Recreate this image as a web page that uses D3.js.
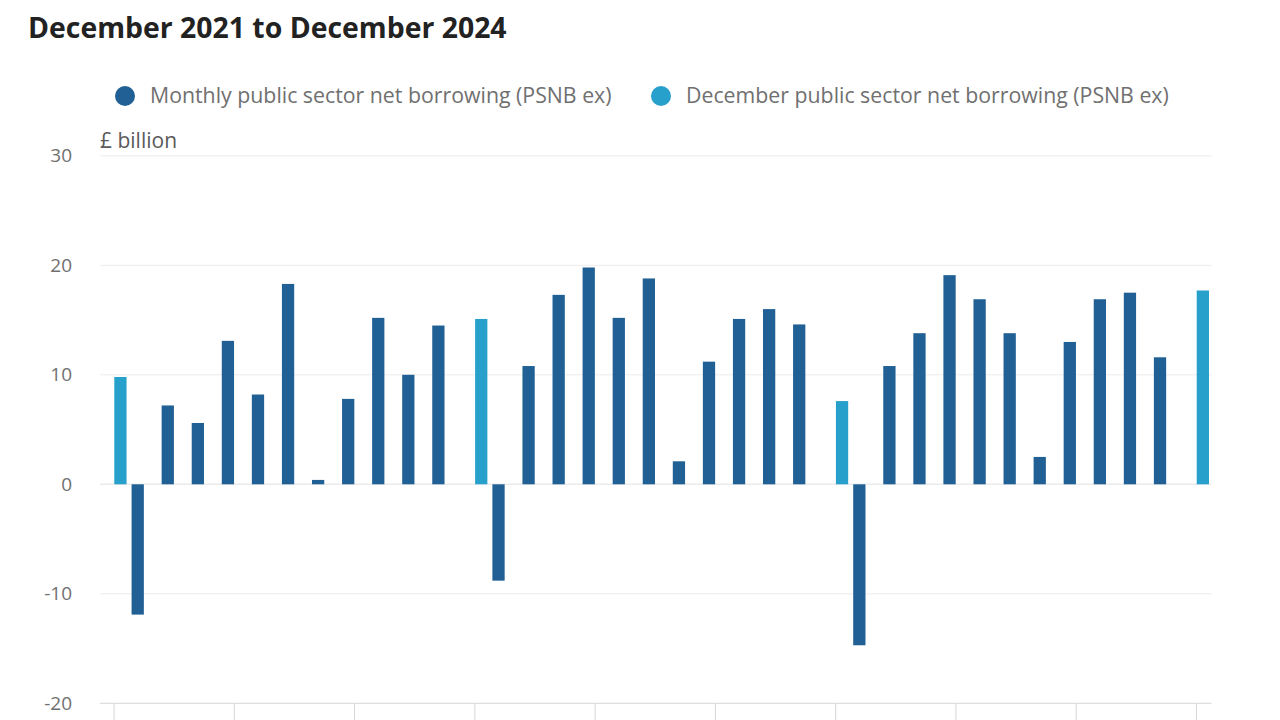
<!DOCTYPE html>
<html>
<head>
<meta charset="utf-8">
<script src="https://cdn.jsdelivr.net/npm/d3@7"></script>
<style>
  html, body { margin: 0; padding: 0; background: #fff; }
  svg { display: block; font-family: "Open Sans", sans-serif; }
</style>
</head>
<body>
<svg id="chart" width="1280" height="720"></svg>
<script>
// ---- Data ----
const months = [
  "Dec 2021","Jan 2022","Feb 2022","Mar 2022","Apr 2022","May 2022","Jun 2022","Jul 2022","Aug 2022","Sep 2022","Oct 2022","Nov 2022",
  "Dec 2022","Jan 2023","Feb 2023","Mar 2023","Apr 2023","May 2023","Jun 2023","Jul 2023","Aug 2023","Sep 2023","Oct 2023","Nov 2023",
  "Dec 2023","Jan 2024","Feb 2024","Mar 2024","Apr 2024","May 2024","Jun 2024","Jul 2024","Aug 2024","Sep 2024","Oct 2024","Nov 2024",
  "Dec 2024"
];
// Monthly PSNB ex (null in December months)
const monthlyValues = [
  null, -11.9, 7.2, 5.6, 13.1, 8.2, 18.3, 0.4, 7.8, 15.2, 10.0, 14.5,
  null, -8.8, 10.8, 17.3, 19.8, 15.2, 18.8, 2.1, 11.2, 15.1, 16.0, 14.6,
  null, -14.7, 10.8, 13.8, 19.1, 16.9, 13.8, 2.5, 13.0, 16.9, 17.5, 11.6,
  null
];
// December PSNB ex (only December months)
const decemberValues = [
  9.8, null, null, null, null, null, null, null, null, null, null, null,
  15.1, null, null, null, null, null, null, null, null, null, null, null,
  7.6, null, null, null, null, null, null, null, null, null, null, null,
  17.7
];
const seriesNames = ["Monthly public sector net borrowing (PSNB ex)", "December public sector net borrowing (PSNB ex)"];
const seriesKeys = ["monthly", "december"];
const seriesColors = ["#206095", "#27a0cc"];
const yTicks = [-20, -10, 0, 10, 20, 30];
const xTickMonths = ["Dec 2021","Apr 2022","Aug 2022","Dec 2022","Apr 2023","Aug 2023","Dec 2023","Apr 2024","Aug 2024","Dec 2024"];
const titleText = "December 2021 to December 2024";
const yUnit = "£ billion";

// ---- Layout ----
const svg = d3.select("#chart");
const plot = { left: 99, right: 1211.5, top: 155.8, bottom: 703.3 };

const x0 = d3.scaleBand().domain(months).range([plot.left, plot.right]).paddingInner(0).paddingOuter(0);
const x1 = d3.scaleBand().domain(seriesKeys).range([2, x0.bandwidth() - 2]).paddingInner(0.04).paddingOuter(0.04);
const y = d3.scaleLinear().domain([-20, 30]).range([plot.bottom, plot.top]);

// Title
svg.append("text")
  .attr("x", 28).attr("y", 38)
  .attr("font-size", 28.4).attr("font-weight", 700)
  .attr("fill", "#222")
  .text(titleText);

// Legend
const legendX = [125, 661];
seriesNames.forEach((name, i) => {
  svg.append("circle").attr("cx", legendX[i]).attr("cy", 96).attr("r", 10).attr("fill", seriesColors[i]);
  svg.append("text")
    .attr("x", legendX[i] + 25).attr("y", 96).attr("dy", "0.35em")
    .attr("font-size", 21.3).attr("fill", "#707070")
    .text(name);
});

// Unit label
svg.append("text")
  .attr("x", 100).attr("y", 148)
  .attr("font-size", 21).attr("fill", "#5a5a5a")
  .text(yUnit);

// Gridlines
svg.append("g")
  .selectAll("line")
  .data(yTicks)
  .join("line")
  .attr("x1", plot.left + 1).attr("x2", plot.right)
  .attr("y1", d => y(d)).attr("y2", d => y(d))
  .attr("stroke", d => d === -20 ? "#d6d6d6" : "#ebebeb")
  .attr("stroke-width", d => d === 0 ? 1.5 : 1);

// Y axis labels (plain hyphen minus as in reference)
const yAxis = d3.axisLeft(y).tickValues(yTicks).tickSize(0).tickPadding(0)
  .tickFormat(d => String(d));
svg.append("g")
  .attr("transform", `translate(72,0)`)
  .call(yAxis)
  .call(g => g.select(".domain").remove())
  .call(g => g.selectAll("text").attr("font-size", 19).attr("fill", "#707070").attr("font-family", "Open Sans, sans-serif"));

// X axis ticks (every 4th month); labels fall below the visible frame in the reference
const xAxis = d3.axisBottom(x0).tickValues(xTickMonths).tickSize(20).tickFormat(() => "");
svg.append("g")
  .attr("transform", `translate(0,${plot.bottom})`)
  .call(xAxis)
  .call(g => g.select(".domain").remove())
  .call(g => g.selectAll(".tick line").attr("stroke", "#d6d6d6"));

// Bars
const rows = months.map((m, i) => ({ month: m, monthly: monthlyValues[i], december: decemberValues[i] }));
seriesKeys.forEach((key, si) => {
  svg.append("g")
    .selectAll("rect")
    .data(rows.filter(r => r[key] !== null))
    .join("rect")
    .attr("x", d => x0(d.month) + x1(key))
    .attr("width", x1.bandwidth())
    .attr("y", d => y(Math.max(0, d[key])))
    .attr("height", d => Math.abs(y(d[key]) - y(0)))
    .attr("fill", seriesColors[si]);
});
</script>
</body>
</html>
